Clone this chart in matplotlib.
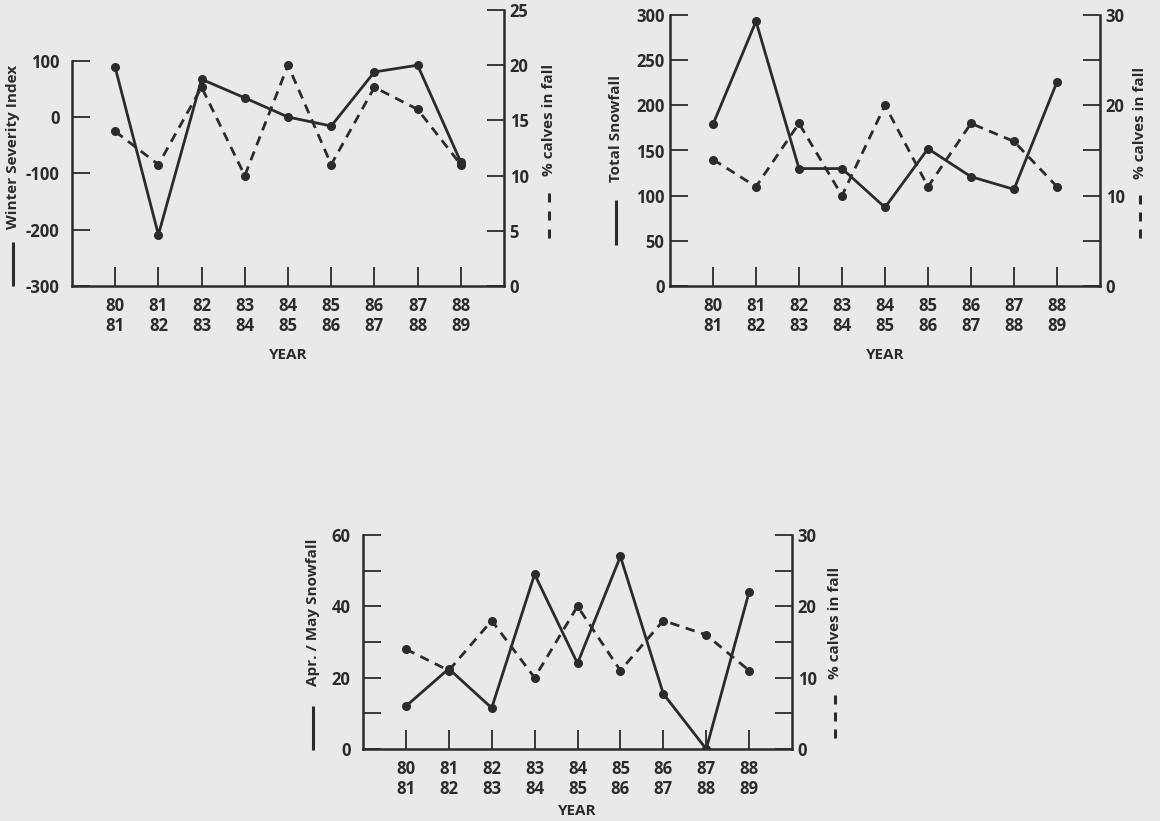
import matplotlib
matplotlib.use("Agg")
import matplotlib.pyplot as plt
from matplotlib.lines import Line2D

# data
years = ["80\n81", "81\n82", "82\n83", "83\n84", "84\n85", "85\n86", "86\n87", "87\n88", "88\n89"]
calves_pct = [14, 11, 18, 10, 20, 11, 18, 16, 11]
winter_severity = [88, -209, 67, 34, 0, -16, 80, 92, -80]
total_snowfall = [179, 293, 130, 130, 87, 152, 121, 107, 226]
aprmay_snowfall = [12, 22.5, 11.5, 49, 24, 54, 15.5, 0, 44]

INK = "#2b2b2b"
BG = "#eae8eb"
W, H = 1160, 821
FS = 11      # axis titles
TFS = 12     # tick labels
WT = "bold"

plt.rcParams["font.family"] = ["Open Sans", "DejaVu Sans"]
plt.rcParams["font.size"] = FS
plt.rcParams["text.color"] = INK
plt.rcParams["axes.labelcolor"] = INK
plt.rcParams["xtick.color"] = INK
plt.rcParams["ytick.color"] = INK

fig = plt.figure(figsize=(W / 100, H / 100), dpi=100, facecolor=BG)


def px_axes(x0, x1, y_top, y_bot):
    # axes rectangle from pixel edges
    return fig.add_axes([x0 / W, 1 - y_bot / H, (x1 - x0) / W, (y_bot - y_top) / H])


def key(x, y0, y1, text_y, label, dashed):
    # little line-style key under each rotated axis title
    if dashed:
        n, seg = 3, (y1 - y0) * 0.2
        step = (y1 - y0 - seg) / (n - 1)
        parts = [(y0 + i * step, y0 + i * step + seg) for i in range(n)]
    else:
        parts = [(y0, y1)]
    for a, b in parts:
        fig.add_artist(Line2D([x / W, x / W], [1 - a / H, 1 - b / H], color=INK,
                              lw=2.2, solid_capstyle="butt", transform=fig.transFigure))
    fig.text(x / W, 1 - text_y / H, label, rotation=90, ha="center", va="center",
             fontsize=FS, fontweight=WT)


def panel(ax, left_vals, ylim, lticks, llabels, lbound, rticks, rlabels, pad_left, xpad=9):
    ax.set_facecolor("none")
    ax.plot(range(len(left_vals)), left_vals, color=INK, lw=2.0, marker="o", ms=5.5,
            solid_joinstyle="miter", zorder=3)
    ax.set_xlim(-1, len(years))
    ax.set_ylim(*ylim)
    ax.set_xticks(range(len(years)))
    ax.set_xticklabels(years, fontweight=WT, fontsize=TFS, linespacing=1.15)
    ax.set_yticks(lticks)
    ax.set_yticklabels(llabels, fontweight=WT, fontsize=TFS)
    ax.tick_params(axis="x", direction="in", length=14, width=1.3, pad=8)
    ax.tick_params(axis="y", direction="in", length=13, width=1.3, pad=pad_left)
    ax.spines["top"].set_visible(False)
    ax.spines["right"].set_visible(False)
    for s in ("left", "bottom"):
        ax.spines[s].set_linewidth(1.8)
        ax.spines[s].set_color(INK)
    ax.spines["left"].set_bounds(*lbound)
    ax.set_xlabel("YEAR", fontweight=WT, labelpad=xpad)

    tw = ax.twinx()
    tw.plot(range(len(calves_pct)), calves_pct, color=INK, lw=2.0, ls=(0, (3.4, 2.4)),
            marker="o", ms=5.5, zorder=3)
    tw.set_ylim(0, rticks[-1])
    tw.set_yticks(rticks)
    tw.set_yticklabels(rlabels, fontweight=WT, fontsize=TFS)
    tw.tick_params(axis="y", direction="in", length=12, width=1.3, pad=4)
    for s in ("top", "left", "bottom"):
        tw.spines[s].set_visible(False)
    tw.spines["right"].set_linewidth(1.8)
    tw.spines["right"].set_color(INK)
    return tw


# top left: winter severity index
ax1 = px_axes(72, 504, 10, 286)
panel(ax1, winter_severity, (-300, 190), [-300, -200, -100, 0, 100],
      ["-300", "-200", "-100", "0", "100"], (-300, 100),
      [0, 5, 10, 15, 20, 25], ["0", "5", "10", "15", "20", "25"], 9)
key(13, 242, 286, 147, "Winter Severity Index", False)
key(549, 193, 238, 120, "% calves in fall", True)

# top right: total snowfall
ax2 = px_axes(670, 1100, 15, 286)
panel(ax2, total_snowfall, (0, 300), [0, 50, 100, 150, 200, 250, 300],
      ["0", "50", "100", "150", "200", "250", "300"], (0, 300),
      [0, 5, 10, 15, 20, 25, 30], ["0", "", "10", "", "20", "", "30"], 4)
key(616, 200, 245, 128, "Total Snowfall", False)
key(1140, 195, 238, 123, "% calves in fall", True)

# bottom: april / may snowfall
ax3 = px_axes(363, 792, 535, 749)
panel(ax3, aprmay_snowfall, (0, 60), [0, 10, 20, 30, 40, 50, 60],
      ["0", "", "20", "", "40", "", "60"], (0, 60),
      [0, 5, 10, 15, 20, 25, 30], ["0", "", "10", "", "20", "", "30"], 9, xpad=4)
key(313, 706, 750, 612, "Apr. / May Snowfall", False)
key(835, 695, 738, 623, "% calves in fall", True)

fig.savefig("out.png", dpi=100, facecolor=BG)
